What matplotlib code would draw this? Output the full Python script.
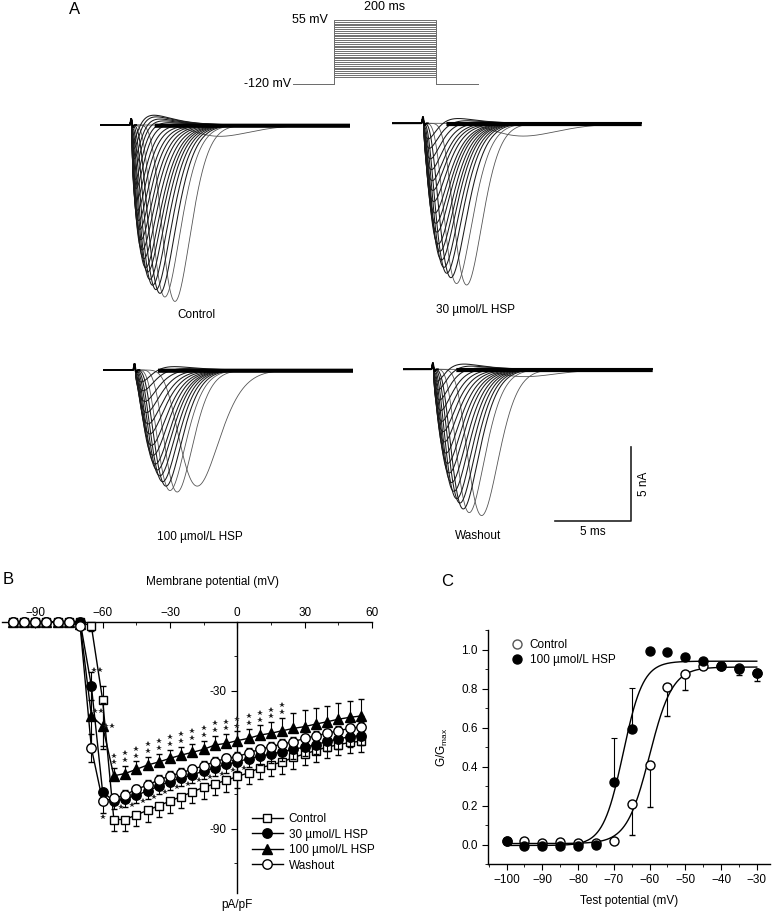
import numpy as np
import matplotlib.pyplot as plt
from matplotlib.lines import Line2D
from matplotlib.ticker import MultipleLocator, FormatStrFormatter

plt.rcParams['font.family'] = ['Liberation Sans', 'DejaVu Sans']
plt.rcParams['font.size'] = 8.5
plt.rcParams['axes.linewidth'] = 1.0

W, H = 777, 915

# ---------- panel A: voltage protocol ----------
hold_mv = -120
test_mv = list(range(-100, 60, 5))
pre_ms, step_ms, post_ms = 80, 200, 85

# ---------- panel A: current families ----------
# peak time (ms from sweep start) and peak inward current (nA), latest trough first
ctrl_ton = 2.07
ctrl_tpk = [7.84, 4.9, 4.24, 3.92, 3.66, 3.44, 3.26, 3.12, 2.99, 2.87, 2.76,
            2.68, 2.6, 2.53, 2.46, 2.42, 2.37, 2.33, 2.3, 2.28, 2.25, 2.23]
ctrl_amp = [0.77, 12.0, 11.7, 11.45, 11.2, 10.9, 10.5, 10.0, 9.7, 9.1, 8.5,
            7.8, 7.1, 6.5, 5.8, 5.1, 4.4, 3.8, 3.1, 2.4, 1.7, 1.1]
ctrl_out = [0.7, 0.62, 0.52, 0.42, 0.32, 0.22, 0.12]   # outward hump, earliest traces first

hsp30_ton = 2.07
hsp30_tpk = [8.6, 4.9, 4.24, 3.87, 3.6, 3.42, 3.26, 3.16, 3.05, 2.96, 2.89,
             2.83, 2.76, 2.71, 2.68, 2.64, 2.59, 2.55, 2.5]
hsp30_amp = [0.87, 11.0, 10.9, 10.5, 10.2, 9.8, 9.3, 8.7, 8.2, 7.4, 6.8,
             6.1, 5.4, 4.7, 4.1, 3.4, 2.7, 2.0, 1.35]
hsp30_out = [0.65, 0.57, 0.48, 0.38, 0.28, 0.18, 0.1]

hsp100_ton = 2.07
hsp100_tpk = [6.14, 4.83, 4.36, 4.1, 3.88, 3.7, 3.53, 3.4, 3.26, 3.16, 3.05,
              2.96, 2.87, 2.79, 2.72, 2.66]
hsp100_amp = [7.9, 8.3, 8.2, 7.9, 7.6, 7.2, 6.8, 6.4, 5.8, 5.2, 4.5,
              3.9, 3.2, 2.5, 1.8, 1.2]
hsp100_out = [0.65, 0.56, 0.46, 0.36, 0.26, 0.16, 0.08]

wash_ton = 2.0
wash_tpk = [8.0, 5.16, 4.35, 3.96, 3.74, 3.53, 3.35, 3.2, 3.05, 2.94, 2.83,
            2.74, 2.66, 2.59, 2.53, 2.46, 2.39, 2.35]
wash_amp = [0.5, 9.95, 9.75, 9.5, 9.1, 8.8, 8.3, 7.7, 7.05, 6.4, 5.7,
            5.0, 4.35, 3.7, 3.0, 2.3, 1.6, 1.0]
wash_out = [0.55, 0.48, 0.4, 0.32, 0.24, 0.15, 0.08]

# ---------- panel B: I-V ----------
iv_mv = list(range(-100, 60, 5))
ctrl_iv = [0, 0, 0, 0, 0, 0, 0, -2, -34, -86, -86, -84, -82, -80, -78, -76, -74, -72,
           -70.5, -69, -67.3, -65.7, -63.6, -62.3, -61, -59, -57.5, -56, -54.5, -53.5, -52.5, -52]
ctrl_lo = [0, 0, 0, 0, 0, 0, 0, 2, 20, 5, 5, 5, 5, 5, 5, 5, 5, 5,
           5, 5, 5, 5, 5, 5, 5, 5, 5, 4.8, 4.6, 4.5, 4.5, 4.5]
ctrl_hi = [0, 0, 0, 0, 0, 0, 0, 0, 6, 0, 0, 0, 0, 0, 0, 0, 0, 0,
           0, 0, 0, 0, 0, 0, 0, 0, 0, 0, 0, 0, 0, 0]
hsp30_iv = [0, 0, 0, 0, 0, 0, 0, -28, -74, -78, -77, -75.5, -73.5, -71.5, -69.5, -68, -66.5, -65,
            -63.5, -62, -61, -59.5, -58.5, -57.5, -56.5, -55.5, -54.5, -53.5, -52, -51, -50, -49.5]
hsp30_lo = [0, 0, 0, 0, 0, 0, 0, 6, 4, 3.5, 3.5, 3.5, 3.5, 3.5, 3.5, 3.5, 3.5, 3.5,
            3.6, 3.6, 3.7, 3.7, 3.8, 3.8, 3.9, 4.0, 4.0, 4.1, 4.2, 4.2, 4.3, 4.3]
hsp30_hi = [0, 0, 0, 0, 0, 0, 0, 6, 0, 0, 0, 0, 0, 0, 0, 0, 0, 0,
            0, 0, 0, 0, 0, 0, 0, 0, 0, 0, 0, 0, 0, 0]
hsp100_iv = [0, 0, 0, 0, 0, 0, -1, -41, -45.4, -67, -66, -64.2, -62.3, -61, -59.4, -58, -56.8, -55.5,
             -53.6, -52.9, -51.7, -50.7, -49.3, -48.5, -47.4, -46.4, -45.6, -44.5, -43.5, -42.4, -41.6, -41]
hsp100_lo = [0, 0, 0, 0, 0, 0, 0, 12, 10, 0, 0, 0, 0, 0, 0, 0, 0, 0,
             0, 0, 0, 0, 0, 0, 0, 0, 0, 0, 0, 0, 0, 0]
hsp100_hi = [0, 0, 0, 0, 0, 0, 0, 12, 10, 3.3, 3.4, 3.5, 3.5, 3.6, 3.6, 3.7, 3.8, 3.8,
             3.9, 4.0, 4.0, 4.0, 4.2, 4.8, 5.5, 6.5, 7.0, 6.8, 6.8, 6.9, 7.0, 7.2]
wash_iv = [0, 0, 0, 0, 0, 0, -2, -55, -78, -76.8, -75.3, -72.9, -71, -68.8, -67.1, -65.6, -64.2, -62.6,
           -60.9, -59.4, -58.7, -57, -55.5, -54.3, -53.2, -52.2, -50.7, -49.6, -48.5, -47.4, -46.4, -45.7]
wash_err = [0, 0, 0, 0, 0, 0, 0, 6, 5, 2, 2, 2, 2, 2, 2, 2, 2, 2,
            2, 2, 2, 2, 2, 2, 2, 2, 2, 2, 2, 2, 2, 2]
sig100_mv = list(range(-55, 25, 5))     # "**" above 100 umol/L
sig30_mv = list(range(-55, 5, 5))       # "*" under 30 umol/L

# ---------- panel C: activation ----------
c_mv = list(range(-100, -25, 5))
c_ctrl = [0.02, 0.02, 0.01, 0.015, 0.01, 0.01, 0.02, 0.21, 0.41, 0.81, 0.875, 0.915, 0.915, 0.905, 0.88]
c_ctrl_err = [0, 0, 0, 0, 0, 0, 0, 0.16, 0.22, 0.15, 0.085, 0.015, 0.01, 0.035, 0.04]
c_hsp = [0.02, -0.01, -0.01, -0.01, -0.01, 0.0, 0.32, 0.59, 0.99, 0.985, 0.96, 0.94, 0.915, 0.9, 0.88]
c_hsp_err = [0, 0, 0, 0, 0, 0, 0.225, 0.215, 0, 0, 0, 0, 0, 0, 0]
# Boltzmann fits: bottom, top, V1/2, slope
ctrl_fit = (0.005, 0.91, -60.0, 3.2)
hsp_fit = (-0.005, 0.94, -67.4, 2.8)


fig = plt.figure(figsize=(W / 100, H / 100), dpi=100)


def px_axes(left, top, width, height):
    return fig.add_axes([left / W, 1 - (top + height) / H, width / W, height / H])


def ftext(x, y, s, **kw):
    fig.text(x / W, 1 - y / H, s, **kw)


# --- protocol
axP = px_axes(293, 14, 186, 76)
axP.set_xlim(-pre_ms, step_ms + post_ms)
axP.set_ylim(-136.4, 71.4)
axP.axis('off')
for v in test_mv:
    axP.plot([-pre_ms, 0, 0, step_ms, step_ms, step_ms + post_ms],
             [hold_mv, hold_mv, v, v, hold_mv, hold_mv], color='#6e6e6e', lw=0.7)
axP.text(-12, 55, '55 mV', ha='right', va='center', fontsize=9)
axP.text(-pre_ms - 3, hold_mv, '-120 mV', ha='right', va='center', fontsize=9)
axP.text(step_ms / 2, 74, '200 ms', ha='center', va='bottom', fontsize=9)


# --- traces
def na_current(t, t_on, tpk, amp):
    sp = tpk - t_on
    n = min(10.0, 0.6 + 1.1 * sp ** 2)
    s = np.clip(t - t_on, 0, None) / sp
    return -amp * s ** n * np.exp(n * (1 - s))


def out_current(t, t_on, amp):
    s = np.clip(t - t_on, 0, None) / 1.3
    return amp * s ** 1.5 * np.exp(1.5 * (1 - s))


def artifact(t, t_on):
    return 0.42 * np.exp(-((t - t_on + 0.03) / 0.05) ** 2) - 0.15 * np.exp(-((t - t_on - 0.09) / 0.05) ** 2)


t = np.linspace(0, 250 / 15.3, 1600)
families = [
    (100, 125, ctrl_ton, ctrl_tpk, ctrl_amp, ctrl_out),
    (391.7, 123.3, hsp30_ton, hsp30_tpk, hsp30_amp, hsp30_out),
    (103.3, 370, hsp100_ton, hsp100_tpk, hsp100_amp, hsp100_out),
    (402.7, 369.3, wash_ton, wash_tpk, wash_amp, wash_out),
]
trace_axes = []
for x0, base, ton, tpk, amp, outw in families:
    ax = px_axes(x0, base - 16, 250, 201)
    ax.set_xlim(0, 250 / 15.3)
    ax.set_ylim(-185 / 14.7, 16 / 14.7)
    ax.axis('off')
    n = len(tpk)
    for i in range(n):
        y = na_current(t, ton, tpk[i], amp[i]) + artifact(t, ton)
        k = n - 1 - i
        if k < len(outw):
            y = y + out_current(t, ton, outw[k])
        # early (dense) sweeps drawn darker than the late ones
        ax.plot(t, y, color='#1a1a1a' if i > 2 else '#555555', lw=0.75 if i > 2 else 0.6)
    pre = t <= ton + 0.3
    ax.plot(t[pre], artifact(t[pre], ton), color='k', lw=1.3)
    post = t >= ton + 1.5
    ax.plot(t[post], 0 * t[post] - 0.05, color='k', lw=3.0, solid_capstyle='butt')
    trace_axes.append(ax)

ftext(196.7, 315, 'Control', ha='center', va='center')
ftext(475, 310, '30 µmol/L HSP', ha='center', va='center')
ftext(200, 537, '100 µmol/L HSP', ha='center', va='center')
ftext(478, 536, 'Washout', ha='center', va='center')

# scale bar (washout axes, ms / nA)
axW = trace_axes[3]
axW.plot([9.95, 14.95, 14.95], [-10.3, -10.3, -5.3], color='#222222', lw=1.2, clip_on=False)
axW.text(12.45, -11.05, '5 ms', ha='center', va='center')
axW.text(15.75, -7.8, '5 nA', ha='center', va='center', rotation=90)

ftext(75, 9, 'A', ha='center', va='center', fontsize=12)
ftext(8, 580, 'B', ha='center', va='center', fontsize=12)
ftext(447, 581, 'C', ha='center', va='center', fontsize=12)

# --- panel B
axB = px_axes(1.6, 614.8, 370.4, 278.3)
axB.set_xlim(-105, 60)
axB.set_ylim(-118, 3)
axB.spines['right'].set_visible(False)
axB.spines['bottom'].set_visible(False)
axB.spines['top'].set_position(('data', 0))
axB.spines['left'].set_position(('data', 0))
axB.spines['top'].set_bounds(-105, 60)
axB.spines['left'].set_bounds(-118, 0)
axB.xaxis.set_ticks_position('top')
axB.set_xticks([-90, -60, -30, 0, 30, 60])
axB.set_xticks([-75, -45, -15, 15, 45], minor=True)
axB.set_yticks([-30, -60, -90])
axB.set_yticklabels(['-30', '', '-90'])
axB.set_yticks([-15, -45, -75, -105], minor=True)
axB.tick_params(axis='x', which='both', direction='in', labelsize=8.5, pad=2)
axB.tick_params(axis='x', which='major', length=4)
axB.tick_params(axis='x', which='minor', length=2)
axB.tick_params(axis='y', which='major', direction='out', length=4, labelsize=8.5)
axB.tick_params(axis='y', which='minor', direction='out', length=2)
axB.patch.set_visible(False)

mv = np.array(iv_mv)
eb = dict(color='k', lw=1.0, elinewidth=0.8, capsize=2, capthick=0.8, mec='k', mew=1.0)
axB.errorbar(mv, ctrl_iv, yerr=[ctrl_lo, ctrl_hi], marker='s', ms=6.3, mfc='white', zorder=3, **eb)
axB.errorbar(mv, hsp30_iv, yerr=[hsp30_lo, hsp30_hi], marker='o', ms=6.8, mfc='k', zorder=4, **eb)
axB.errorbar(mv, hsp100_iv, yerr=[hsp100_lo, hsp100_hi], marker='^', ms=7.3, mfc='k', zorder=5, **eb)
axB.errorbar(mv, wash_iv, yerr=wash_err, marker='o', ms=6.8, mfc='white', zorder=6, **eb)

# significance marks
star = dict(ls='none', marker='*', ms=3.8, color='#222222', mew=0, zorder=7)
iv100 = dict(zip(iv_mv, zip(hsp100_iv, hsp100_hi)))
for v in sig100_mv:
    y0, e = iv100[v]
    axB.plot([v, v], [y0 + e + 2.5, y0 + e + 5.5], **star)
iv30 = dict(zip(iv_mv, hsp30_iv))
for v in sig30_mv:
    axB.plot(v + 3, iv30[v] - 2.5, **star)
ivw = dict(zip(iv_mv, wash_iv))
axB.plot(-60, ivw[-60] - 7, **star)
axB.plot([-64, -61.2], [iv30[-65] + 7] * 2, **star)
axB.plot([-63.5, -60.6], [iv100[-65][0] + 2] * 2, **star)
axB.plot([-58.6, -56], [iv100[-60][0]] * 2, **star)

ftext(213, 582, 'Membrane potential (mV)', ha='center', va='center')
ftext(237, 905, 'pA/pF', ha='center', va='center')

handles = [
    Line2D([], [], color='k', lw=1, marker='s', ms=6.3, mfc='white', mec='k'),
    Line2D([], [], color='k', lw=1, marker='o', ms=6.8, mfc='k', mec='k'),
    Line2D([], [], color='k', lw=1, marker='^', ms=7.3, mfc='k', mec='k'),
    Line2D([], [], color='k', lw=1, marker='o', ms=6.8, mfc='white', mec='k'),
]
fig.legend(handles, ['Control', '30 µmol/L HSP', '100 µmol/L HSP', 'Washout'],
           loc='upper left', bbox_to_anchor=(252 / W, 1 - 813 / H), frameon=False,
           borderpad=0, borderaxespad=0, handlelength=2.6, handletextpad=0.5,
           labelspacing=0.3, fontsize=8.5)

# --- panel C
axC = px_axes(488, 630, 282, 234)
axC.set_xlim(-105.2, -26.3)
axC.set_ylim(-0.1, 1.1)
axC.spines['right'].set_visible(False)
axC.spines['top'].set_visible(False)
axC.xaxis.set_major_locator(MultipleLocator(10))
axC.xaxis.set_minor_locator(MultipleLocator(5))
axC.set_xticks(range(-100, -25, 10))
axC.yaxis.set_major_locator(MultipleLocator(0.2))
axC.yaxis.set_minor_locator(MultipleLocator(0.1))
axC.yaxis.set_major_formatter(FormatStrFormatter('%.1f'))
axC.set_ylim(-0.1, 1.1)
axC.tick_params(which='major', direction='out', length=4, labelsize=8.5)
axC.tick_params(which='minor', direction='out', length=2)

vv = np.linspace(-100, -30, 400)
for b, top, vh, k in (ctrl_fit, hsp_fit):
    axC.plot(vv, b + (top - b) / (1 + np.exp((vh - vv) / k)), color='k', lw=1.0, zorder=2)
axC.errorbar(c_mv, c_ctrl, yerr=[c_ctrl_err, [0] * len(c_ctrl_err)], ls='none', marker='o', ms=6.5,
             mfc='white', mec='k', mew=1.0, ecolor='k', elinewidth=0.8, capsize=2, capthick=0.8, zorder=3)
axC.errorbar(c_mv, c_hsp, yerr=[[0] * len(c_hsp_err), c_hsp_err], ls='none', marker='o', ms=6.5,
             mfc='k', mec='k', ecolor='k', elinewidth=0.8, capsize=2, capthick=0.8, zorder=4)
axC.set_xlabel('Test potential (mV)', fontsize=8.5, labelpad=6)
axC.set_ylabel(r'$\mathregular{G/G_{max}}$', fontsize=8.5, labelpad=8)
axC.legend([Line2D([], [], ls='none', marker='o', ms=6.5, mfc='white', mec='#555555'),
            Line2D([], [], ls='none', marker='o', ms=6.5, mfc='k', mec='k')],
           ['Control', '100 µmol/L HSP'], loc='upper left', bbox_to_anchor=(0.06, 0.985),
           frameon=False, borderpad=0, handlelength=1.0, handletextpad=0.6, labelspacing=0.25,
           fontsize=8.5)

fig.savefig('out.png', dpi=100)
